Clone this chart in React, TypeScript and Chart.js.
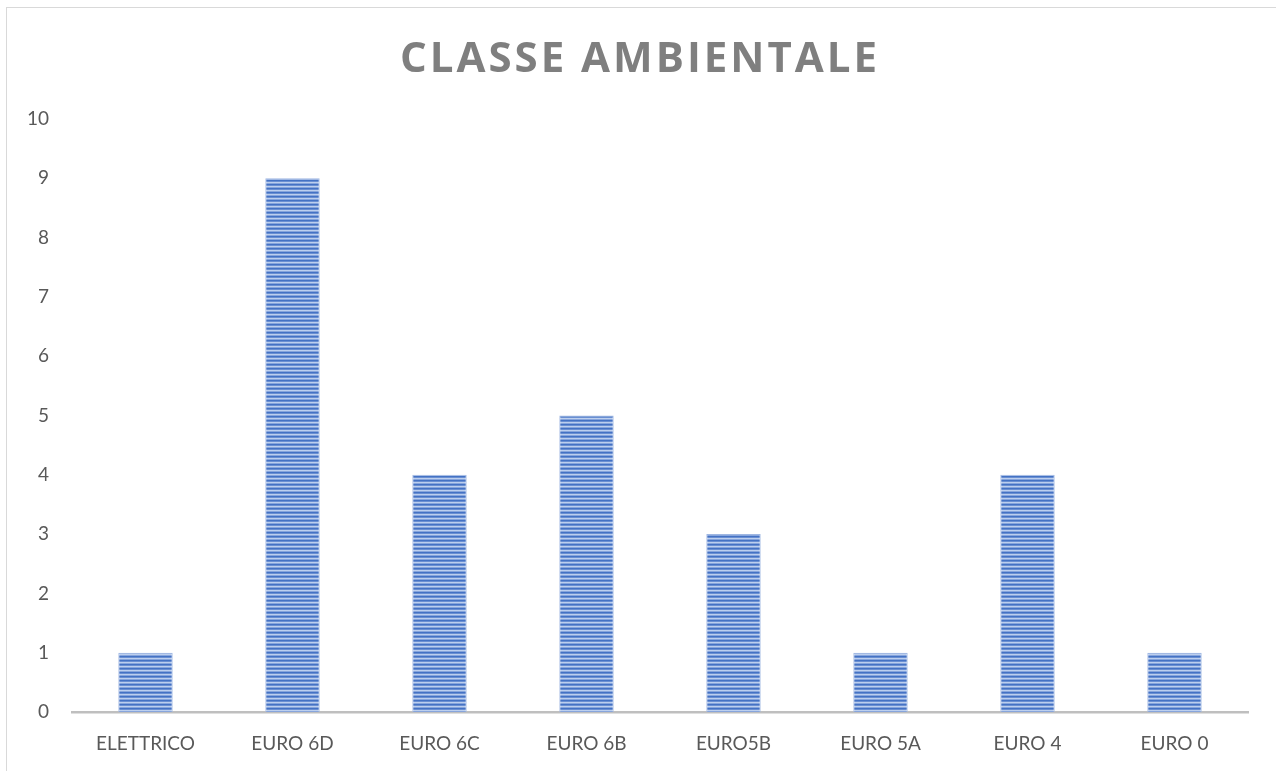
import React, { useEffect, useRef } from "react";
import { Chart, registerables } from "chart.js";

Chart.register(...registerables);

const categories = ["ELETTRICO", "EURO 6D", "EURO 6C", "EURO 6B", "EURO5B", "EURO 5A", "EURO 4", "EURO 0"];
const values = [1, 9, 4, 5, 3, 1, 4, 1];
const yTicks = [0, 1, 2, 3, 4, 5, 6, 7, 8, 9, 10];
const titleText = "CLASSE AMBIENTALE";

function makeStripePattern(ctx: CanvasRenderingContext2D): CanvasPattern | string {
  const c = document.createElement("canvas");
  c.width = 4;
  c.height = 4;
  const p = c.getContext("2d");
  if (!p) return "#4472c4";
  const rows = ["#4472c4", "#6a8fd2", "#bccfee", "#87a5dc"];
  rows.forEach((col, i) => {
    p.fillStyle = col;
    p.fillRect(0, i, 4, 1);
  });
  return ctx.createPattern(c, "repeat") || "#4472c4";
}

const framePlugin = {
  id: "frame",
  beforeDraw(chart: any) {
    const { ctx, width, height } = chart;
    ctx.save();
    ctx.fillStyle = "#ffffff";
    ctx.fillRect(0, 0, width, height);
    ctx.strokeStyle = "#d9d9d9";
    ctx.lineWidth = 1;
    ctx.strokeRect(6.5, 7.5, width + 20, height + 20);
    ctx.restore();
  },
  afterDraw(chart: any) {
    const { ctx } = chart;
    ctx.save();
    ctx.fillStyle = "#7f7f7f";
    ctx.font = "bold 42px 'Open Sans'";
    (ctx as any).letterSpacing = "3px";
    ctx.textAlign = "center";
    ctx.textBaseline = "middle";
    ctx.fillText(titleText, 640, 60);
    ctx.restore();
  },
};

export default function App() {
  const ref = useRef<HTMLCanvasElement>(null);
  useEffect(() => {
    document.body.style.margin = "0";
    const canvas = ref.current!;
    const ctx = canvas.getContext("2d")!;
    const pattern = makeStripePattern(ctx);
    const chart = new Chart(canvas, {
      type: "bar",
      data: {
        labels: categories,
        datasets: [
          {
            data: values,
            backgroundColor: pattern as any,
            borderColor: "#9fb7e2",
            borderWidth: 1,
            barPercentage: 0.74,
            categoryPercentage: 0.5,
          },
        ],
      },
      options: {
        responsive: false,
        animation: false,
        layout: { padding: { top: 119, right: 28, left: 0, bottom: 0 } },
        plugins: { legend: { display: false }, tooltip: { enabled: false }, title: { display: false } },
        scales: {
          x: {
            grid: { display: false },
            border: { display: true, color: "#bfbfbf", width: 2.5 },
            ticks: { color: "#595959", font: { family: "Lato", size: 19 }, padding: 12 },
            afterFit(scale: any) {
              scale.height = 59;
            },
          },
          y: {
            min: 0,
            max: 10,
            afterBuildTicks(scale: any) {
              scale.ticks = yTicks.map((v) => ({ value: v }));
            },
            grid: { display: false },
            border: { display: false },
            ticks: { color: "#595959", font: { family: "Lato", size: 19 }, padding: 15 },
            afterFit(scale: any) {
              scale.width = 72;
            },
          },
        },
      },
      plugins: [framePlugin],
    });
    return () => chart.destroy();
  }, []);
  return <canvas ref={ref} width={1276} height={771} style={{ display: "block" }} />;
}
